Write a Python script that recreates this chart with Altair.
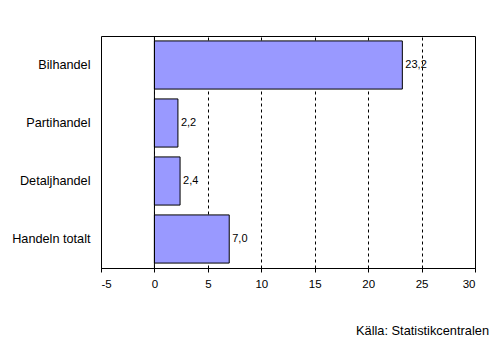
import altair as alt
import pandas as pd

categories = ["Bilhandel", "Partihandel", "Detaljhandel", "Handeln totalt"]
values = [23.2, 2.2, 2.4, 7.0]
x_ticks = [-5, 0, 5, 10, 15, 20, 25, 30]
source_text = "Källa: Statistikcentralen"

df = pd.DataFrame({"cat": categories, "v": values})

FONT = "Liberation Sans"

xscale = alt.Scale(domain=[-5, 30], nice=False, zero=False)
yscale = alt.Scale(domain=categories, paddingInner=0.17, paddingOuter=0.085)

base = alt.Chart(df)

bars = base.mark_bar(color="#9999FF", stroke="black", strokeWidth=1).encode(
    x=alt.X("v:Q", scale=xscale, title=None,
            axis=alt.Axis(values=x_ticks, grid=True, gridColor="black", gridDash=[3, 3],
                          gridOpacity=1, gridWidth=1, domainColor="black", tickColor="black",
                          tickSize=4, labelFont=FONT, labelFontSize=11.5, labelColor="black",
                          labelPadding=6,
                          labelExpr="datum.value < 0 ? '-' + abs(datum.value) : '' + datum.value")),
    x2=alt.datum(0),
    y=alt.Y("cat:N", scale=yscale, sort=categories, title=None,
            axis=alt.Axis(ticks=False, domain=False, labelFont=FONT, labelFontSize=12.7,
                          labelColor="black", labelPadding=11)),
)

labels = base.mark_text(align="left", baseline="middle", dx=3, font=FONT, fontSize=11,
                        color="black").transform_calculate(
    lab="replace(format(datum.v, '.1f'), '.', ',')"
).encode(
    x=alt.X("v:Q", scale=xscale),
    y=alt.Y("cat:N", scale=yscale, sort=categories),
    text="lab:N",
)

zero = alt.Chart(pd.DataFrame({"z": [0]})).mark_rule(color="black", strokeWidth=1).encode(
    x=alt.X("z:Q", scale=xscale)
)

src = alt.Chart(pd.DataFrame({"t": [source_text]})).mark_text(
    align="right", baseline="middle", font=FONT, fontSize=12.8, color="black"
).encode(x=alt.value(388), y=alt.value(295), text="t:N")

chart = alt.layer(bars, zero, labels, src).properties(
    width=374, height=232,
    padding={"left": 101, "top": 36, "right": 26, "bottom": 85},
    autosize=alt.AutoSizeParams(type="none"),
    background="white",
).configure_view(stroke="black", strokeWidth=1)

chart.save("out.html", embed_options={"renderer": "svg", "actions": False})
